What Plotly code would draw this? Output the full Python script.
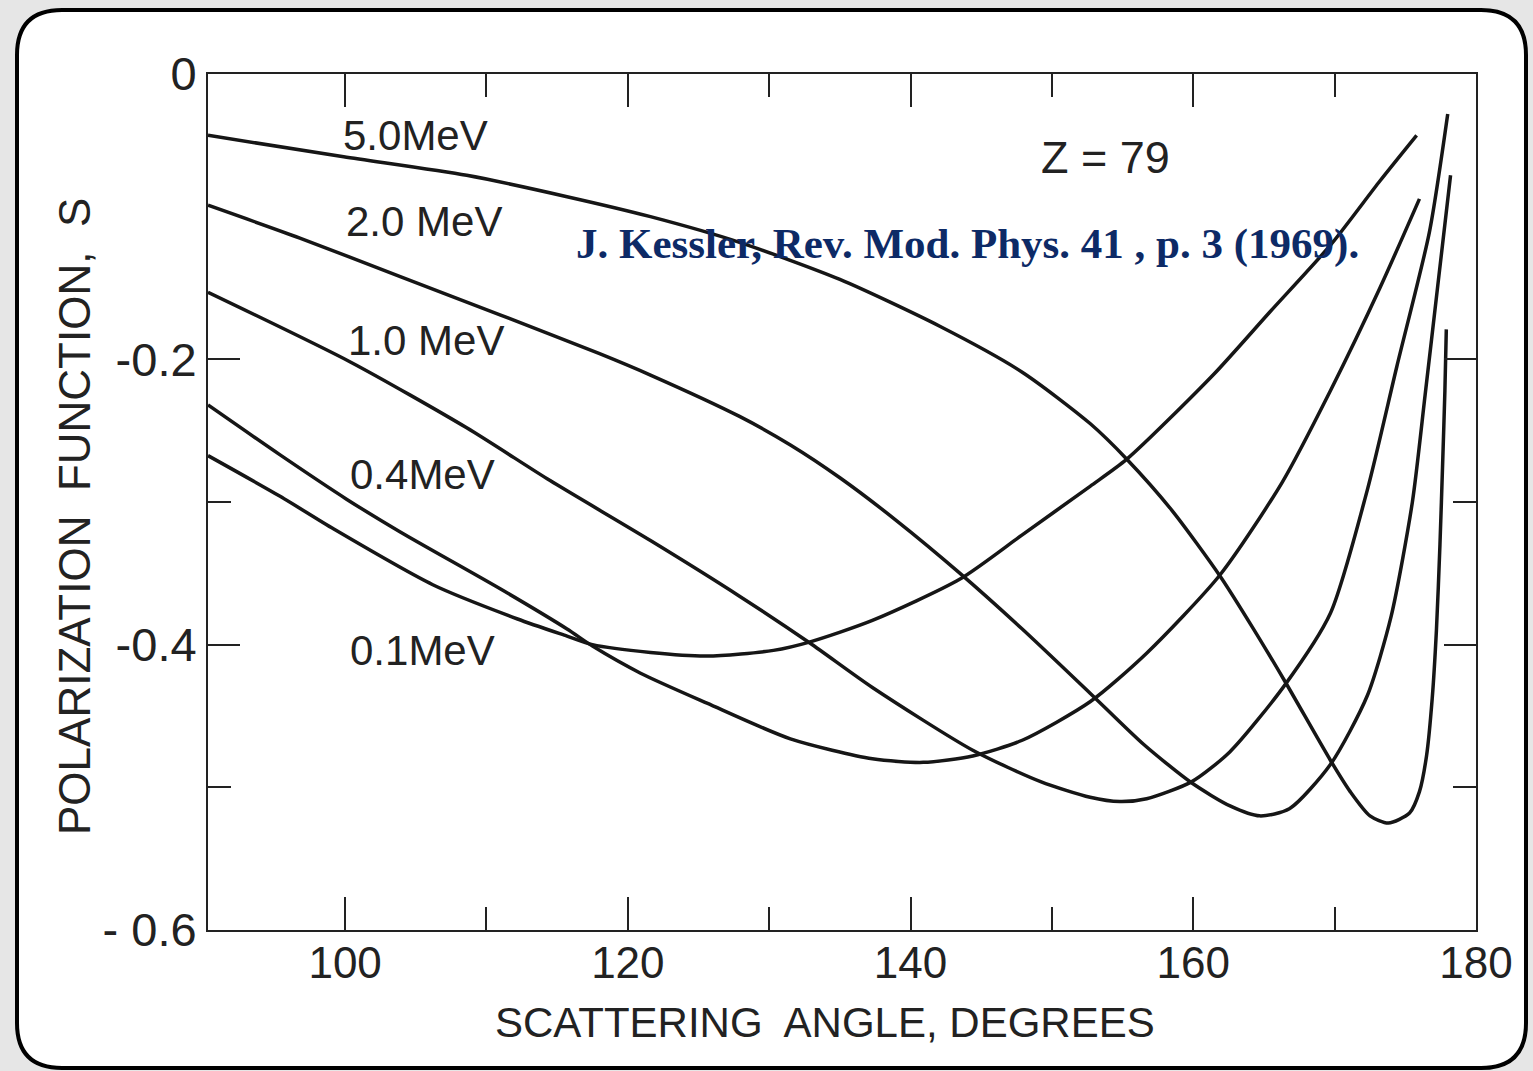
import plotly.graph_objects as go

# ---------------- data ----------------
angle_5_0 = [90.3, 99.9, 108.6, 115.7, 121.6, 127.9, 135.0, 142.1, 147.9, 152.7, 155.3, 158.5,
             161.9, 164.2, 166.5, 169.7, 171.1, 172.5, 173.8, 175.3, 176.0, 176.5, 176.9, 177.2, 177.45,
             177.65, 177.8, 177.9]
s_5_0 = [-0.043, -0.058, -0.071, -0.086, -0.100, -0.118, -0.144, -0.177, -0.209, -0.245, -0.270, -0.306,
         -0.352, -0.388, -0.426, -0.481, -0.503, -0.520, -0.525, -0.518, -0.503, -0.478, -0.438, -0.390, -0.330,
         -0.270, -0.222, -0.179]

angle_2_0 = [90.3, 96.8, 103.9, 111.0, 118.0, 121.6, 127.9, 131.5, 135.0, 139.0, 143.5, 147.9, 152.7,
             156.5, 159.9, 162.6, 164.7, 166.8, 169.7, 172.3, 174.0, 175.5, 176.4, 177.3, 178.2]
s_2_0 = [-0.092, -0.115, -0.142, -0.169, -0.196, -0.211, -0.240, -0.260, -0.283, -0.313, -0.350, -0.389, -0.434,
         -0.470, -0.497, -0.513, -0.520, -0.515, -0.484, -0.436, -0.380, -0.300, -0.225, -0.148, -0.071]

angle_1_0 = [90.3, 100.4, 108.6, 114.5, 121.6, 127.9, 132.9, 137.3, 144.4, 149.2, 152.7, 154.8, 156.7,
             159.9, 162.6, 166.5, 169.7, 172.3, 174.4, 176.7, 178.0]
s_1_0 = [-0.153, -0.202, -0.248, -0.285, -0.327, -0.366, -0.399, -0.430, -0.474, -0.496, -0.507, -0.510, -0.508,
         -0.496, -0.475, -0.428, -0.378, -0.292, -0.205, -0.111, -0.028]

angle_0_4 = [90.3, 95.4, 100.1, 103.9, 111.0, 115.7, 117.5, 120.9, 125.6, 131.5, 137.3, 140.9, 144.4,
             147.9, 152.7, 156.7, 161.9, 166.3, 169.7, 173.2, 176.0]
s_0_4 = [-0.232, -0.267, -0.298, -0.321, -0.361, -0.389, -0.401, -0.420, -0.441, -0.466, -0.480, -0.4825, -0.478,
         -0.467, -0.440, -0.406, -0.351, -0.286, -0.222, -0.150, -0.0875]

angle_0_1 = [90.3, 95.4, 99.2, 106.2, 112.2, 115.7, 117.5, 121.6, 125.6, 130.3, 132.9, 137.3, 143.5,
             147.9, 152.7, 155.3, 161.4, 165.4, 169.7, 173.2, 175.8]
s_0_1 = [-0.2675, -0.296, -0.319, -0.358, -0.382, -0.394, -0.400, -0.4055, -0.408, -0.404, -0.398, -0.383, -0.354,
         -0.323, -0.289, -0.270, -0.211, -0.167, -0.120, -0.075, -0.043]

series = [
    ("5.0 MeV", angle_5_0, s_5_0),
    ("2.0 MeV", angle_2_0, s_2_0),
    ("1.0 MeV", angle_1_0, s_1_0),
    ("0.4 MeV", angle_0_4, s_0_4),
    ("0.1 MeV", angle_0_1, s_0_1),
]

x_ticks = [100, 120, 140, 160, 180]
x_ticktext = ["100", "120", "140", "160", "180"]
x_minor = [110, 130, 150, 170]
y_ticks = [0, -0.2, -0.4, -0.6]
y_ticktext = ["0", "-0.2", "-0.4", "- 0.6"]
y_minor = [-0.3, -0.5]

curve_labels = ["5.0MeV", "2.0 MeV", "1.0 MeV", "0.4MeV", "0.1MeV"]
curve_label_pos = [(415, 135), (424, 222), (426, 340), (422, 474), (422, 650)]

# ---------------- layout geometry ----------------
W, H = 1533, 1071
L, R, T, B = 208, 57, 74, 141
PW, PH = W - L - R, H - T - B


def px(xpix):
    return (xpix - L) / PW


def py(ypix):
    return 1 - (ypix - T) / PH


ink = "#161616"
fig = go.Figure()
for name, xs, ys in series:
    fig.add_trace(go.Scatter(x=xs, y=ys, mode="lines", name=name, showlegend=False,
                             line=dict(color=ink, width=3.5, shape="spline", smoothing=0.7),
                             hoverinfo="x+y+name"))

# rounded frame around the whole picture
x0, y0, x1, y1, r = 17, 10, 1526, 1068, 45
path = (f"M {px(x0 + r)} {py(y0)} L {px(x1 - r)} {py(y0)} Q {px(x1)} {py(y0)} {px(x1)} {py(y0 + r)} "
        f"L {px(x1)} {py(y1 - r)} Q {px(x1)} {py(y1)} {px(x1 - r)} {py(y1)} "
        f"L {px(x0 + r)} {py(y1)} Q {px(x0)} {py(y1)} {px(x0)} {py(y1 - r)} "
        f"L {px(x0)} {py(y0 + r)} Q {px(x0)} {py(y0)} {px(x0 + r)} {py(y0)} Z")
fig.add_shape(type="path", path=path, xref="paper", yref="paper", layer="below",
              fillcolor="white", line=dict(color="black", width=4))

sans = "Liberation Sans"
annotations = []
for txt, (ax, ay) in zip(curve_labels, curve_label_pos):
    annotations.append(dict(text=txt, x=px(ax), y=py(ay), xref="paper", yref="paper",
                            xanchor="center", yanchor="middle", showarrow=False,
                            font=dict(family=sans, size=42, color="#222")))
annotations.append(dict(text="Z = 79", x=px(1105), y=py(158), xref="paper", yref="paper",
                        xanchor="center", yanchor="middle", showarrow=False,
                        font=dict(family=sans, size=45, color="#222")))
annotations.append(dict(text="<b>J. Kessler, Rev. Mod. Phys. 41 , p. 3 (1969).</b>",
                        x=px(967), y=py(244), xref="paper", yref="paper",
                        xanchor="center", yanchor="middle", showarrow=False,
                        font=dict(family="Liberation Serif", size=43, color="#0d2a66")))
annotations.append(dict(text="SCATTERING  ANGLE, DEGREES", x=px(825), y=py(1022), xref="paper", yref="paper",
                        xanchor="center", yanchor="middle", showarrow=False,
                        font=dict(family=sans, size=42, color="#222")))
annotations.append(dict(text="POLARIZATION  FUNCTION,  S", x=px(74), y=py(517), xref="paper", yref="paper",
                        xanchor="center", yanchor="middle", showarrow=False, textangle=-90,
                        font=dict(family=sans, size=44, color="#222")))

axis_common = dict(showline=True, linecolor="#222", linewidth=2, mirror="ticks", ticks="inside",
                   tickwidth=2, tickcolor="#222", showgrid=False, zeroline=False)

fig.update_layout(
    width=W, height=H,
    margin=dict(l=L, r=R, t=T, b=B, pad=0),
    paper_bgcolor="#e6e6e6",
    plot_bgcolor="rgba(0,0,0,0)",
    annotations=annotations,
    xaxis=dict(range=[90.3, 180], tickvals=x_ticks, ticktext=x_ticktext, ticklen=33,
               ticklabelstandoff=-7, tickfont=dict(family=sans, size=44, color="#222"),
               minor=dict(tickvals=x_minor, ticklen=23, tickwidth=2, tickcolor="#222",
                          ticks="inside", showgrid=False),
               **axis_common),
    yaxis=dict(range=[-0.6, 0], tickvals=y_ticks, ticktext=y_ticktext, ticklen=32,
               ticklabelstandoff=0, tickfont=dict(family=sans, size=47, color="#222"),
               minor=dict(tickvals=y_minor, ticklen=23, tickwidth=2, tickcolor="#222",
                          ticks="inside", showgrid=False),
               **axis_common),
)

fig.write_html("out.html", config={"displayModeBar": False},
               post_script="document.body.style.margin='0';document.body.style.background='#e6e6e6';")
